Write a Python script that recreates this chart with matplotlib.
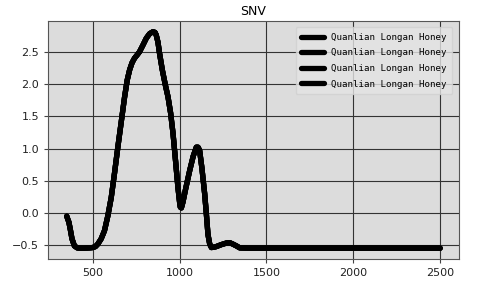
import numpy as np
import matplotlib
matplotlib.use('Agg')
import matplotlib.pyplot as plt

# wavelength (nm) and SNV values
wavelength = [350, 355, 362, 370, 380, 394, 410, 423, 450, 480, 500, 515, 529, 548,
              567, 586, 606, 625, 644, 664, 683, 698, 712, 726, 740, 755, 769, 788,
              808, 827, 846, 858, 865, 875, 884, 900, 918, 933, 948, 962, 976, 990,
              1000, 1004, 1010, 1019, 1035, 1058, 1078, 1096, 1106, 1115, 1128, 1144,
              1154, 1163, 1173, 1183, 1197, 1211, 1240, 1270, 1288, 1305, 1327, 1346,
              1400, 1600, 1800, 2000, 2200, 2400, 2500]
snv = [-0.05, -0.09, -0.14, -0.25, -0.40, -0.51, -0.54, -0.545, -0.545, -0.54, -0.535,
       -0.52, -0.48, -0.40, -0.275, -0.05, 0.24, 0.62, 1.02, 1.42, 1.80, 2.06, 2.22, 2.33,
       2.40, 2.45, 2.50, 2.60, 2.71, 2.78, 2.81, 2.80, 2.76, 2.65, 2.48, 2.22, 1.98, 1.80,
       1.55, 1.23, 0.82, 0.40, 0.16, 0.09, 0.08, 0.17, 0.38, 0.66, 0.88, 1.02, 1.02, 0.97,
       0.70, 0.30, -0.02, -0.33, -0.48, -0.535, -0.53, -0.52, -0.49, -0.465, -0.46, -0.48,
       -0.51, -0.54, -0.545, -0.545, -0.545, -0.545, -0.545, -0.545, -0.545]
labels = ['Quanlian Longan Honey'] * 4

fig = plt.figure(figsize=(4.86, 2.91), dpi=100)
ax = fig.add_axes([0.099, 0.110, 0.845, 0.818])
ax.set_facecolor('#dcdcdc')

for lab in labels:
    ax.plot(wavelength, snv, color='black', linewidth=3.8, label=lab,
            solid_capstyle='round', solid_joinstyle='round')

ax.set_title('SNV', fontsize=9, pad=4)
ax.set_yticks([-0.5, 0.0, 0.5, 1.0, 1.5, 2.0, 2.5])
ax.set_xticks([500, 1000, 1500, 2000, 2500])
ax.tick_params(labelsize=8, length=3, color='#444444', labelcolor='#222222')
ax.grid(True, color='#333333', linewidth=0.8)
ax.set_axisbelow(True)
for sp in ax.spines.values():
    sp.set_color('#555555')
    sp.set_linewidth(0.8)

leg = ax.legend(loc='upper right', prop={'family': 'DejaVu Sans Mono', 'size': 6.6},
                handlelength=2.5, labelspacing=0.72, borderpad=0.6,
                borderaxespad=0.7, facecolor='#e4e4e4', edgecolor='#d0d0d0',
                framealpha=0.8)

fig.savefig('out.png', dpi=100)
